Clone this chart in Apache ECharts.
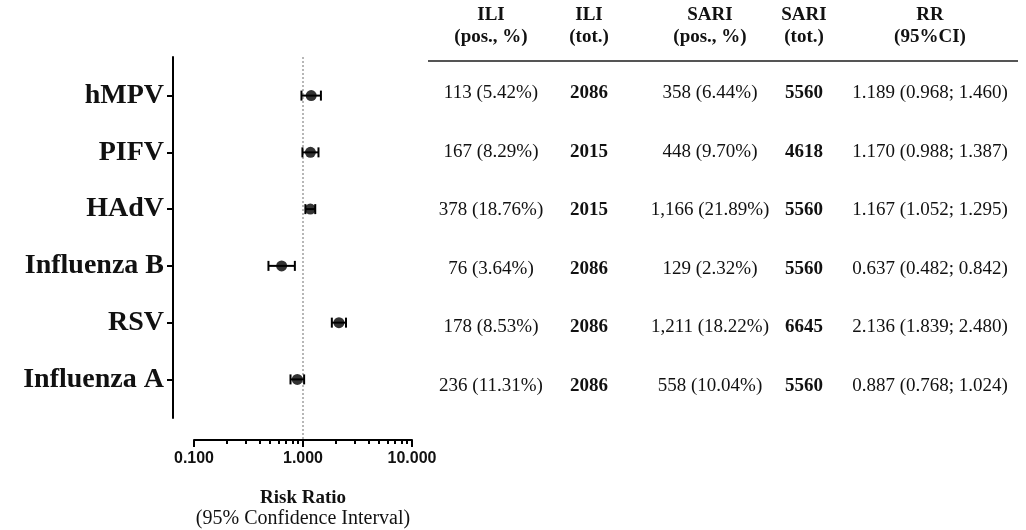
<!DOCTYPE html>
<html><head><meta charset="utf-8">
<script src="https://cdn.jsdelivr.net/npm/echarts@6/dist/echarts.min.js"></script>
<style>html,body{margin:0;padding:0;background:#fff}#c{width:1026px;height:530px}</style>
</head><body><div id="c"></div>
<script>
const categories = ['hMPV','PIFV','HAdV','Influenza B','RSV','Influenza A'];
const rr   = [1.189, 1.170, 1.167, 0.637, 2.136, 0.887];
const ciLo = [0.968, 0.988, 1.052, 0.482, 1.839, 0.768];
const ciHi = [1.460, 1.387, 1.295, 0.842, 2.480, 1.024];
const iliPos  = ['113 (5.42%)','167 (8.29%)','378 (18.76%)','76 (3.64%)','178 (8.53%)','236 (11.31%)'];
const iliTot  = ['2086','2015','2015','2086','2086','2086'];
const sariPos = ['358 (6.44%)','448 (9.70%)','1,166 (21.89%)','129 (2.32%)','1,211 (18.22%)','558 (10.04%)'];
const sariTot = ['5560','4618','5560','5560','6645','5560'];
const headers1 = ['ILI','ILI','SARI','SARI','RR'];
const headers2 = ['(pos., %)','(tot.)','(pos., %)','(tot.)','(95%CI)'];
const xMajorTicks = [0.1, 1, 10];
const xMinorTicks = [0.2,0.3,0.4,0.5,0.6,0.7,0.8,0.9,2,3,4,5,6,7,8,9];
const refValue = 1;

const serif = '"Liberation Serif", "Times New Roman", serif';
const yMin = -0.68, yMax = 5.68;
const xOffset = 22;
const rrText = rr.map((v,i)=> v.toFixed(3)+' ('+ciLo[i].toFixed(3)+'; '+ciHi[i].toFixed(3)+')');
const columns = [iliPos, iliTot, sariPos, sariTot, rrText];
const colX = [491, 589, 710, 804, 930];
const colBold = [false, true, false, true, false];

const graphics = [];
headers1.forEach((h,i)=>{
  graphics.push({type:'text', x:colX[i], y:15, style:{text:h, font:'bold 19px '+serif, fill:'#111', align:'center', verticalAlign:'middle'}});
  graphics.push({type:'text', x:colX[i], y:37, style:{text:headers2[i], font:'bold 19px '+serif, fill:'#111', align:'center', verticalAlign:'middle'}});
});
graphics.push({type:'line', shape:{x1:428, y1:61, x2:1018, y2:61}, style:{stroke:'#555', lineWidth:2}});
columns.forEach((col,ci)=>{
  col.forEach((t,ri)=>{
    graphics.push({type:'text', x:colX[ci], y:93 + ri*58.6, style:{text:t, font:(colBold[ci]?'bold ':'')+'19px '+serif, fill:'#111', align:'center', verticalAlign:'middle'}});
  });
});
graphics.push({type:'text', x:303, y:498, style:{text:'Risk Ratio', font:'bold 19px '+serif, fill:'#111', align:'center', verticalAlign:'middle'}});
graphics.push({type:'text', x:303, y:519, style:{text:'(95% Confidence Interval)', font:'20px '+serif, fill:'#111', align:'center', verticalAlign:'middle'}});

const chart = echarts.init(document.getElementById('c'));
chart.setOption({
  animation:false,
  backgroundColor:'#fff',
  grid:{left:194, right:614, top:57, bottom:112},
  xAxis:[{
    type:'log', logBase:10, min:0.1, max:10, position:'bottom', offset:xOffset,
    axisLine:{show:true, onZero:false, lineStyle:{color:'#000', width:2}},
    axisTick:{show:true, length:7, lineStyle:{color:'#000', width:2}, customValues:xMajorTicks},
    axisLabel:{show:true, customValues:xMajorTicks, formatter:v=>Number(v).toFixed(3), fontFamily:'"Liberation Sans", Arial, sans-serif', fontWeight:'bold', fontSize:16, color:'#111', margin:11},
    splitLine:{show:false}, minorTick:{show:false}
  },{
    type:'log', logBase:10, min:0.1, max:10, position:'bottom', offset:xOffset,
    axisLine:{show:false, onZero:false},
    axisTick:{show:true, length:4, lineStyle:{color:'#000', width:2}, customValues:xMinorTicks},
    axisLabel:{show:false}, splitLine:{show:false}
  }],
  yAxis:{
    type:'value', inverse:true, min:yMin, max:yMax, offset:21,
    axisLine:{show:true, onZero:false, lineStyle:{color:'#000', width:2}},
    axisTick:{show:true, length:6, lineStyle:{color:'#000', width:2}, customValues:categories.map((c,i)=>i)},
    axisLabel:{customValues:categories.map((c,i)=>i), formatter:v=>categories[Math.round(v)], fontFamily:serif, fontWeight:'bold', fontSize:28, color:'#111', margin:9},
    splitLine:{show:false}
  },
  series:[
    {
      type:'custom', xAxisIndex:0, data:[[refValue, 0]], clip:false, silent:true, z:1,
      renderItem:(params, api)=>{
        const p0 = api.coord([api.value(0), yMin]);
        const p1 = api.coord([api.value(0), yMax]);
        return {type:'line', shape:{x1:p0[0], y1:p0[1], x2:p1[0], y2:p1[1]+xOffset}, style:{stroke:'#888', lineWidth:1.2, lineDash:[2,2]}};
      }
    },
    {
      type:'custom', xAxisIndex:0, z:3,
      encode:{x:[0,2], y:1},
      data: categories.map((c,i)=>[ciLo[i], i, ciHi[i]]),
      renderItem:(params, api)=>{
        const a = api.coord([api.value(0), api.value(1)]);
        const b = api.coord([api.value(2), api.value(1)]);
        const h = 5;
        return {type:'group', children:[
          {type:'line', shape:{x1:a[0], y1:a[1], x2:b[0], y2:b[1]}, style:{stroke:'#000', lineWidth:2}},
          {type:'line', shape:{x1:a[0], y1:a[1]-h, x2:a[0], y2:a[1]+h}, style:{stroke:'#000', lineWidth:2}},
          {type:'line', shape:{x1:b[0], y1:b[1]-h, x2:b[0], y2:b[1]+h}, style:{stroke:'#000', lineWidth:2}}
        ]};
      }
    },
    {
      type:'scatter', xAxisIndex:0, z:4, symbol:'circle', symbolSize:11,
      itemStyle:{color:'#000'},
      data: rr.map((v,i)=>[v, i])
    }
  ],
  graphic: graphics
});
</script>
</body></html>
